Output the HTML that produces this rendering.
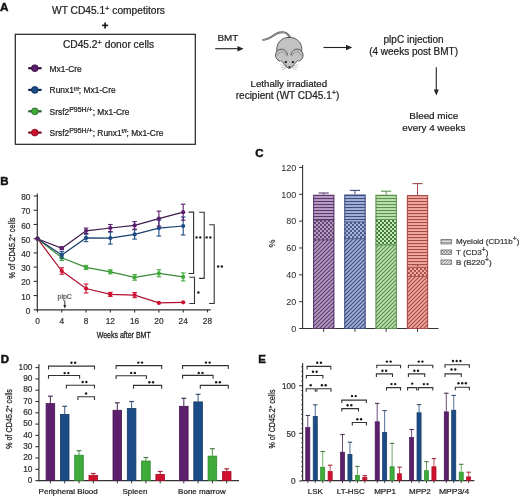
<!DOCTYPE html>
<html><head><meta charset="utf-8"><style>
html,body{margin:0;padding:0;background:#fff;}
body{width:520px;height:497px;overflow:hidden;}
svg{display:block;font-family:"Liberation Sans", sans-serif;will-change:transform;}
</style></head><body>
<svg width="520" height="497" viewBox="0 0 520 497">
<defs><pattern id="hp" patternUnits="userSpaceOnUse" width="4" height="3"><rect width="4" height="3" fill="#b99bc6"/><rect y="0" width="4" height="1.05" fill="#5a3a6c"/></pattern><pattern id="xp" patternUnits="userSpaceOnUse" width="4" height="4"><rect width="4" height="4" fill="#b49cc2"/><rect width="2" height="2" fill="#664674"/><rect x="2" y="2" width="2" height="2" fill="#664674"/></pattern><pattern id="dp" patternUnits="userSpaceOnUse" width="4" height="4"><rect width="4" height="4" fill="#b99bc6"/><path d="M-1,1 L1,-1 M0,4 L4,0 M3,5 L5,3" stroke="#5a3a6c" stroke-width="1.15"/></pattern><pattern id="hb" patternUnits="userSpaceOnUse" width="4" height="3"><rect width="4" height="3" fill="#a3b0d6"/><rect y="0" width="4" height="1.05" fill="#3f4e82"/></pattern><pattern id="xb" patternUnits="userSpaceOnUse" width="4" height="4"><rect width="4" height="4" fill="#a8b6dc"/><rect width="2" height="2" fill="#4a5a8e"/><rect x="2" y="2" width="2" height="2" fill="#4a5a8e"/></pattern><pattern id="db" patternUnits="userSpaceOnUse" width="4" height="4"><rect width="4" height="4" fill="#a3b0d6"/><path d="M-1,1 L1,-1 M0,4 L4,0 M3,5 L5,3" stroke="#3f4e82" stroke-width="1.15"/></pattern><pattern id="hg" patternUnits="userSpaceOnUse" width="4" height="3"><rect width="4" height="3" fill="#bde1ae"/><rect y="0" width="4" height="1.05" fill="#5a9050"/></pattern><pattern id="xg" patternUnits="userSpaceOnUse" width="4" height="4"><rect width="4" height="4" fill="#c6eab9"/><rect width="2" height="2" fill="#457a3b"/><rect x="2" y="2" width="2" height="2" fill="#457a3b"/></pattern><pattern id="dg" patternUnits="userSpaceOnUse" width="4" height="4"><rect width="4" height="4" fill="#bde1ae"/><path d="M-1,1 L1,-1 M0,4 L4,0 M3,5 L5,3" stroke="#5a9050" stroke-width="1.15"/></pattern><pattern id="hr" patternUnits="userSpaceOnUse" width="4" height="3"><rect width="4" height="3" fill="#f0a89d"/><rect y="0" width="4" height="1.05" fill="#a84a48"/></pattern><pattern id="xr" patternUnits="userSpaceOnUse" width="4" height="4"><rect width="4" height="4" fill="#eeaaa2"/><rect width="2" height="2" fill="#b05050"/><rect x="2" y="2" width="2" height="2" fill="#b05050"/></pattern><pattern id="dr" patternUnits="userSpaceOnUse" width="4" height="4"><rect width="4" height="4" fill="#f0a89d"/><path d="M-1,1 L1,-1 M0,4 L4,0 M3,5 L5,3" stroke="#a84a48" stroke-width="1.15"/></pattern><pattern id="hL" patternUnits="userSpaceOnUse" width="4" height="2.2"><rect width="4" height="2.2" fill="#e6e6e6"/><rect width="4" height="0.7" fill="#888"/></pattern><pattern id="xL" patternUnits="userSpaceOnUse" width="3" height="3"><rect width="3" height="3" fill="#e0e0e0"/><path d="M0,0 L3,3 M3,0 L0,3" stroke="#777" stroke-width="0.6"/></pattern><pattern id="dL" patternUnits="userSpaceOnUse" width="3" height="3"><rect width="3" height="3" fill="#e0e0e0"/><path d="M-1,1 L1,-1 M0,3 L3,0 M2,4 L4,2" stroke="#777" stroke-width="0.7"/></pattern></defs>
<rect width="520" height="497" fill="#fff"/>
<text x="0.10" y="10.60" font-size="11.7" text-anchor="start" fill="#111" font-weight="bold"  stroke="#111" stroke-width="0.45">A</text>
<text x="108.50" y="13.80" font-size="10.2" text-anchor="middle" fill="#222222" font-weight="normal" stroke="#222222" stroke-width="0.22" >WT CD45.1<tspan font-size="7.5" dy="-3.3">+</tspan><tspan dy="3.3"> competitors</tspan></text>
<line x1="102.10" y1="25.40" x2="108.10" y2="25.40" stroke="#111" stroke-width="1.6" />
<line x1="105.10" y1="22.40" x2="105.10" y2="28.40" stroke="#111" stroke-width="1.6" />
<rect x="15.3" y="34.3" width="180" height="110" fill="none" stroke="#222" stroke-width="1.2"/>
<text x="108.50" y="48.00" font-size="10.2" text-anchor="middle" fill="#222222" font-weight="normal" stroke="#222222" stroke-width="0.22" >CD45.2<tspan font-size="7.5" dy="-3.3">+</tspan><tspan dy="3.3"> donor cells</tspan></text>
<line x1="28.20" y1="68.20" x2="41.60" y2="68.20" stroke="#35103f" stroke-width="2.2" />
<circle cx="34.8" cy="68.2" r="3.4" fill="#5c1f6e" stroke="#35103f" stroke-width="0.8"/>
<text x="49.60" y="71.60" font-size="8.4" text-anchor="start" fill="#222222" font-weight="normal" stroke="#222222" stroke-width="0.22" >Mx1-Cre</text>
<line x1="28.20" y1="89.90" x2="41.60" y2="89.90" stroke="#0f2b52" stroke-width="2.2" />
<circle cx="34.8" cy="89.9" r="3.4" fill="#1c4c87" stroke="#0f2b52" stroke-width="0.8"/>
<text x="49.60" y="93.30" font-size="8.4" text-anchor="start" fill="#222222" font-weight="normal" stroke="#222222" stroke-width="0.22" >Runx1<tspan font-size="6" dy="-2.8">f/f</tspan><tspan dy="2.8">; Mx1-Cre</tspan></text>
<line x1="28.20" y1="111.30" x2="41.60" y2="111.30" stroke="#2a5e2a" stroke-width="2.2" />
<circle cx="34.8" cy="111.3" r="3.4" fill="#3fab3a" stroke="#2a5e2a" stroke-width="0.8"/>
<text x="49.60" y="114.70" font-size="8.4" text-anchor="start" fill="#222222" font-weight="normal" stroke="#222222" stroke-width="0.22" >Srsf2<tspan font-size="7" dy="-2.6">P95H/+</tspan><tspan dy="2.6">; Mx1-Cre</tspan></text>
<line x1="28.20" y1="132.60" x2="41.60" y2="132.60" stroke="#7a0a1c" stroke-width="2.2" />
<circle cx="34.8" cy="132.6" r="3.4" fill="#cf1130" stroke="#7a0a1c" stroke-width="0.8"/>
<text x="49.60" y="136.00" font-size="8.4" text-anchor="start" fill="#222222" font-weight="normal" stroke="#222222" stroke-width="0.22" >Srsf2<tspan font-size="7" dy="-2.6">P95H/+</tspan><tspan dy="2.6">; Runx1</tspan><tspan font-size="6" dy="-2.8">f/f</tspan><tspan dy="2.8">; Mx1-Cre</tspan></text>
<text x="217.50" y="40.60" font-size="9.9" text-anchor="start" fill="#222222" font-weight="normal" stroke="#222222" stroke-width="0.22" >BMT</text>
<line x1="215.20" y1="48.70" x2="240.00" y2="48.70" stroke="#222" stroke-width="1.1" />
<path d="M237.5,46 L243.6,48.7 L237.5,51.4 Z" fill="#222"/>
<g stroke-linejoin="round" stroke-linecap="round">
<path d="M263.3,39.9 C267.5,39.6 271.5,37 275,34.5 C278,32.5 281,32 284,32.4 C286.5,32.8 288.5,34.6 290.2,37.8" fill="none" stroke="#555" stroke-width="1.9"/>
<path d="M263.6,39.8 C267.5,39.6 271.5,37 275,34.5 C278,32.5 281,32 284,32.4 C286.5,32.8 288.5,34.6 290.2,37.8" fill="none" stroke="#bdbdbd" stroke-width="0.6"/>
<path d="M289.3,37.3 C296.5,37.3 301.8,42.5 301.8,49 C301.8,54 300,57.5 297.5,60.5 L291.3,67.4 C290.2,68.6 288.4,68.6 287.3,67.4 L281.1,60.5 C278.6,57.5 276.8,54 276.8,49 C276.8,42.5 282.1,37.3 289.3,37.3 Z" fill="#c2c2c2" stroke="#4a4a4a" stroke-width="0.9"/>
<path d="M280,61.2 C276.9,60.2 275.2,57.6 275.5,54.5 C275.9,51.2 278.5,49.2 281.5,49.2 C284.8,49.2 287.3,51.6 287.6,55" fill="#c2c2c2" stroke="#4a4a4a" stroke-width="0.9"/>
<path d="M298.6,61.2 C301.7,60.2 303.4,57.6 303.1,54.5 C302.7,51.2 300.1,49.2 297.1,49.2 C293.8,49.2 291.3,51.6 291,55" fill="#c2c2c2" stroke="#4a4a4a" stroke-width="0.9"/>
<path d="M277.4,55.5 C277.9,53 279.8,51.6 282,51.8 C284.2,52 285.8,53.5 286.2,55.5" fill="none" stroke="#7a7a7a" stroke-width="0.6"/>
<path d="M301.2,55.5 C300.7,53 298.8,51.6 296.6,51.8 C294.4,52 292.8,53.5 292.4,55.5" fill="none" stroke="#7a7a7a" stroke-width="0.6"/>
</g>
<circle cx="285.8" cy="62.1" r="1.15" fill="#111"/>
<circle cx="292.9" cy="62.1" r="1.15" fill="#111"/>
<circle cx="289.4" cy="66.9" r="0.95" fill="#111"/>
<g stroke="#777" stroke-width="0.4" fill="none">
<path d="M287,66 L280.5,64.8 M287,66.6 L280.8,67.6 M287.3,67.2 L282,70"/>
<path d="M291.7,66 L298.2,64.8 M291.7,66.6 L297.9,67.6 M291.4,67.2 L296.7,70"/>
</g>
<text x="288.80" y="86.90" font-size="9.7" text-anchor="middle" fill="#222222" font-weight="normal" stroke="#222222" stroke-width="0.22" >Lethally irradiated</text>
<text x="287.60" y="98.60" font-size="10" text-anchor="middle" fill="#222222" font-weight="normal" stroke="#222222" stroke-width="0.22" >recipient (WT CD45.1<tspan font-size="7.5" dy="-3.4">+</tspan><tspan dy="3.4">)</tspan></text>
<line x1="323.50" y1="47.50" x2="348.00" y2="47.50" stroke="#222" stroke-width="1.1" />
<path d="M346,44.8 L352.3,47.5 L346,50.2 Z" fill="#222"/>
<text x="413.60" y="43.10" font-size="10" text-anchor="middle" fill="#222222" font-weight="normal" stroke="#222222" stroke-width="0.22" >plpC injection</text>
<text x="413.60" y="55.00" font-size="10" text-anchor="middle" fill="#222222" font-weight="normal" stroke="#222222" stroke-width="0.22" >(4 weeks post BMT)</text>
<line x1="436.30" y1="67.30" x2="436.30" y2="91.00" stroke="#222" stroke-width="1.1" />
<path d="M433.8,89.6 L436.3,95.6 L438.8,89.6 Z" fill="#222"/>
<text x="433.80" y="119.20" font-size="9.9" text-anchor="middle" fill="#222222" font-weight="normal" stroke="#222222" stroke-width="0.22" >Bleed mice</text>
<text x="433.80" y="130.80" font-size="9.9" text-anchor="middle" fill="#222222" font-weight="normal" stroke="#222222" stroke-width="0.22" >every 4 weeks</text>
<text x="0.30" y="185.30" font-size="11.5" text-anchor="start" fill="#111" font-weight="bold"  stroke="#111" stroke-width="0.45">B</text>
<line x1="37.30" y1="193.40" x2="37.30" y2="310.40" stroke="#333333" stroke-width="1.2" />
<line x1="36.70" y1="309.80" x2="210.80" y2="309.80" stroke="#333333" stroke-width="1.2" />
<line x1="33.60" y1="309.80" x2="37.30" y2="309.80" stroke="#333333" stroke-width="1.1" />
<text x="30.40" y="313.85" font-size="8.3" text-anchor="end" fill="#333" font-weight="normal" stroke="#333" stroke-width="0.22" >0</text>
<line x1="33.60" y1="295.57" x2="37.30" y2="295.57" stroke="#333333" stroke-width="1.1" />
<text x="30.40" y="299.62" font-size="8.3" text-anchor="end" fill="#333" font-weight="normal" stroke="#333" stroke-width="0.22" >10</text>
<line x1="33.60" y1="281.35" x2="37.30" y2="281.35" stroke="#333333" stroke-width="1.1" />
<text x="30.40" y="285.40" font-size="8.3" text-anchor="end" fill="#333" font-weight="normal" stroke="#333" stroke-width="0.22" >20</text>
<line x1="33.60" y1="267.12" x2="37.30" y2="267.12" stroke="#333333" stroke-width="1.1" />
<text x="30.40" y="271.18" font-size="8.3" text-anchor="end" fill="#333" font-weight="normal" stroke="#333" stroke-width="0.22" >30</text>
<line x1="33.60" y1="252.90" x2="37.30" y2="252.90" stroke="#333333" stroke-width="1.1" />
<text x="30.40" y="256.95" font-size="8.3" text-anchor="end" fill="#333" font-weight="normal" stroke="#333" stroke-width="0.22" >40</text>
<line x1="33.60" y1="238.68" x2="37.30" y2="238.68" stroke="#333333" stroke-width="1.1" />
<text x="30.40" y="242.73" font-size="8.3" text-anchor="end" fill="#333" font-weight="normal" stroke="#333" stroke-width="0.22" >50</text>
<line x1="33.60" y1="224.45" x2="37.30" y2="224.45" stroke="#333333" stroke-width="1.1" />
<text x="30.40" y="228.50" font-size="8.3" text-anchor="end" fill="#333" font-weight="normal" stroke="#333" stroke-width="0.22" >60</text>
<line x1="33.60" y1="210.23" x2="37.30" y2="210.23" stroke="#333333" stroke-width="1.1" />
<text x="30.40" y="214.28" font-size="8.3" text-anchor="end" fill="#333" font-weight="normal" stroke="#333" stroke-width="0.22" >70</text>
<line x1="33.60" y1="196.00" x2="37.30" y2="196.00" stroke="#333333" stroke-width="1.1" />
<text x="30.40" y="200.05" font-size="8.3" text-anchor="end" fill="#333" font-weight="normal" stroke="#333" stroke-width="0.22" >80</text>
<line x1="37.50" y1="309.80" x2="37.50" y2="312.40" stroke="#333333" stroke-width="1.1" />
<text x="37.50" y="323.60" font-size="8.3" text-anchor="middle" fill="#333" font-weight="normal" stroke="#333" stroke-width="0.22" >0</text>
<line x1="61.78" y1="309.80" x2="61.78" y2="312.40" stroke="#333333" stroke-width="1.1" />
<text x="61.78" y="323.60" font-size="8.3" text-anchor="middle" fill="#333" font-weight="normal" stroke="#333" stroke-width="0.22" >4</text>
<line x1="86.06" y1="309.80" x2="86.06" y2="312.40" stroke="#333333" stroke-width="1.1" />
<text x="86.06" y="323.60" font-size="8.3" text-anchor="middle" fill="#333" font-weight="normal" stroke="#333" stroke-width="0.22" >8</text>
<line x1="110.34" y1="309.80" x2="110.34" y2="312.40" stroke="#333333" stroke-width="1.1" />
<text x="110.34" y="323.60" font-size="8.3" text-anchor="middle" fill="#333" font-weight="normal" stroke="#333" stroke-width="0.22" >12</text>
<line x1="134.62" y1="309.80" x2="134.62" y2="312.40" stroke="#333333" stroke-width="1.1" />
<text x="134.62" y="323.60" font-size="8.3" text-anchor="middle" fill="#333" font-weight="normal" stroke="#333" stroke-width="0.22" >16</text>
<line x1="158.90" y1="309.80" x2="158.90" y2="312.40" stroke="#333333" stroke-width="1.1" />
<text x="158.90" y="323.60" font-size="8.3" text-anchor="middle" fill="#333" font-weight="normal" stroke="#333" stroke-width="0.22" >20</text>
<line x1="183.18" y1="309.80" x2="183.18" y2="312.40" stroke="#333333" stroke-width="1.1" />
<text x="183.18" y="323.60" font-size="8.3" text-anchor="middle" fill="#333" font-weight="normal" stroke="#333" stroke-width="0.22" >24</text>
<line x1="207.46" y1="309.80" x2="207.46" y2="312.40" stroke="#333333" stroke-width="1.1" />
<text x="207.46" y="323.60" font-size="8.3" text-anchor="middle" fill="#333" font-weight="normal" stroke="#333" stroke-width="0.22" >28</text>
<text x="11.60" y="248.00" font-size="9" text-anchor="middle" fill="#222" font-weight="normal"  transform="rotate(-90 11.6 248)" textLength="61" lengthAdjust="spacingAndGlyphs" dy="3" stroke="#222" stroke-width="0.25">% of CD45.2<tspan font-size="5.5" dy="-2.8">+</tspan><tspan dy="2.8"> cells</tspan></text>
<text x="123.70" y="338.00" font-size="9.6" text-anchor="middle" fill="#222" font-weight="normal"  textLength="54" lengthAdjust="spacingAndGlyphs" stroke="#222" stroke-width="0.3">Weeks after BMT</text>
<text x="64.70" y="298.70" font-size="7" text-anchor="middle" fill="#555" font-weight="normal" stroke="#555" stroke-width="0.22" >plpC</text>
<line x1="64.80" y1="300.50" x2="64.80" y2="306.00" stroke="#222" stroke-width="0.9" />
<path d="M63.3,305 L64.8,308.5 L66.3,305 Z" fill="#222"/>
<polyline points="37.50,238.70 61.78,271.00 86.06,288.50 110.34,294.40 134.62,295.10 158.90,302.90 183.18,302.30" fill="none" stroke="#b01030" stroke-width="1.2"/>
<polyline points="37.50,238.70 61.78,257.70 86.06,267.40 110.34,271.80 134.62,277.40 158.90,273.30 183.18,276.90" fill="none" stroke="#3a8a3a" stroke-width="1.2"/>
<polyline points="37.50,238.70 61.78,254.90 86.06,237.90 110.34,238.10 134.62,234.40 158.90,228.10 183.18,226.00" fill="none" stroke="#1b3f6e" stroke-width="1.2"/>
<polyline points="37.50,238.70 61.78,248.20 86.06,230.80 110.34,228.00 134.62,225.40 158.90,218.60 183.18,212.20" fill="none" stroke="#3f1a4c" stroke-width="1.2"/>
<circle cx="37.50" cy="238.70" r="2.1" fill="#cf1130"/>
<line x1="61.78" y1="267.80" x2="61.78" y2="274.20" stroke="#cf1130" stroke-width="1.1" />
<line x1="59.48" y1="267.80" x2="64.08" y2="267.80" stroke="#cf1130" stroke-width="1.1" />
<line x1="59.48" y1="274.20" x2="64.08" y2="274.20" stroke="#cf1130" stroke-width="1.1" />
<circle cx="61.78" cy="271.00" r="2.1" fill="#cf1130"/>
<line x1="86.06" y1="284.00" x2="86.06" y2="293.00" stroke="#cf1130" stroke-width="1.1" />
<line x1="83.76" y1="284.00" x2="88.36" y2="284.00" stroke="#cf1130" stroke-width="1.1" />
<line x1="83.76" y1="293.00" x2="88.36" y2="293.00" stroke="#cf1130" stroke-width="1.1" />
<circle cx="86.06" cy="288.50" r="2.1" fill="#cf1130"/>
<line x1="110.34" y1="292.40" x2="110.34" y2="296.40" stroke="#cf1130" stroke-width="1.1" />
<line x1="108.04" y1="292.40" x2="112.64" y2="292.40" stroke="#cf1130" stroke-width="1.1" />
<line x1="108.04" y1="296.40" x2="112.64" y2="296.40" stroke="#cf1130" stroke-width="1.1" />
<circle cx="110.34" cy="294.40" r="2.1" fill="#cf1130"/>
<line x1="134.62" y1="292.50" x2="134.62" y2="297.70" stroke="#cf1130" stroke-width="1.1" />
<line x1="132.32" y1="292.50" x2="136.92" y2="292.50" stroke="#cf1130" stroke-width="1.1" />
<line x1="132.32" y1="297.70" x2="136.92" y2="297.70" stroke="#cf1130" stroke-width="1.1" />
<circle cx="134.62" cy="295.10" r="2.1" fill="#cf1130"/>
<circle cx="158.90" cy="302.90" r="2.1" fill="#cf1130"/>
<circle cx="183.18" cy="302.30" r="2.1" fill="#cf1130"/>
<circle cx="37.50" cy="238.70" r="2.1" fill="#3fab3a"/>
<line x1="61.78" y1="254.90" x2="61.78" y2="260.50" stroke="#3fab3a" stroke-width="1.1" />
<line x1="59.48" y1="254.90" x2="64.08" y2="254.90" stroke="#3fab3a" stroke-width="1.1" />
<line x1="59.48" y1="260.50" x2="64.08" y2="260.50" stroke="#3fab3a" stroke-width="1.1" />
<circle cx="61.78" cy="257.70" r="2.1" fill="#3fab3a"/>
<line x1="86.06" y1="265.40" x2="86.06" y2="269.40" stroke="#3fab3a" stroke-width="1.1" />
<line x1="83.76" y1="265.40" x2="88.36" y2="265.40" stroke="#3fab3a" stroke-width="1.1" />
<line x1="83.76" y1="269.40" x2="88.36" y2="269.40" stroke="#3fab3a" stroke-width="1.1" />
<circle cx="86.06" cy="267.40" r="2.1" fill="#3fab3a"/>
<line x1="110.34" y1="269.80" x2="110.34" y2="273.80" stroke="#3fab3a" stroke-width="1.1" />
<line x1="108.04" y1="269.80" x2="112.64" y2="269.80" stroke="#3fab3a" stroke-width="1.1" />
<line x1="108.04" y1="273.80" x2="112.64" y2="273.80" stroke="#3fab3a" stroke-width="1.1" />
<circle cx="110.34" cy="271.80" r="2.1" fill="#3fab3a"/>
<line x1="134.62" y1="274.60" x2="134.62" y2="280.20" stroke="#3fab3a" stroke-width="1.1" />
<line x1="132.32" y1="274.60" x2="136.92" y2="274.60" stroke="#3fab3a" stroke-width="1.1" />
<line x1="132.32" y1="280.20" x2="136.92" y2="280.20" stroke="#3fab3a" stroke-width="1.1" />
<circle cx="134.62" cy="277.40" r="2.1" fill="#3fab3a"/>
<line x1="158.90" y1="269.80" x2="158.90" y2="276.80" stroke="#3fab3a" stroke-width="1.1" />
<line x1="156.60" y1="269.80" x2="161.20" y2="269.80" stroke="#3fab3a" stroke-width="1.1" />
<line x1="156.60" y1="276.80" x2="161.20" y2="276.80" stroke="#3fab3a" stroke-width="1.1" />
<circle cx="158.90" cy="273.30" r="2.1" fill="#3fab3a"/>
<line x1="183.18" y1="272.90" x2="183.18" y2="280.90" stroke="#3fab3a" stroke-width="1.1" />
<line x1="180.88" y1="272.90" x2="185.48" y2="272.90" stroke="#3fab3a" stroke-width="1.1" />
<line x1="180.88" y1="280.90" x2="185.48" y2="280.90" stroke="#3fab3a" stroke-width="1.1" />
<circle cx="183.18" cy="276.90" r="2.1" fill="#3fab3a"/>
<circle cx="37.50" cy="238.70" r="2.1" fill="#1c4c87"/>
<line x1="61.78" y1="251.60" x2="61.78" y2="258.20" stroke="#1c4c87" stroke-width="1.1" />
<line x1="59.48" y1="251.60" x2="64.08" y2="251.60" stroke="#1c4c87" stroke-width="1.1" />
<line x1="59.48" y1="258.20" x2="64.08" y2="258.20" stroke="#1c4c87" stroke-width="1.1" />
<circle cx="61.78" cy="254.90" r="2.1" fill="#1c4c87"/>
<line x1="86.06" y1="234.20" x2="86.06" y2="241.60" stroke="#1c4c87" stroke-width="1.1" />
<line x1="83.76" y1="234.20" x2="88.36" y2="234.20" stroke="#1c4c87" stroke-width="1.1" />
<line x1="83.76" y1="241.60" x2="88.36" y2="241.60" stroke="#1c4c87" stroke-width="1.1" />
<circle cx="86.06" cy="237.90" r="2.1" fill="#1c4c87"/>
<line x1="110.34" y1="232.10" x2="110.34" y2="244.10" stroke="#1c4c87" stroke-width="1.1" />
<line x1="108.04" y1="232.10" x2="112.64" y2="232.10" stroke="#1c4c87" stroke-width="1.1" />
<line x1="108.04" y1="244.10" x2="112.64" y2="244.10" stroke="#1c4c87" stroke-width="1.1" />
<circle cx="110.34" cy="238.10" r="2.1" fill="#1c4c87"/>
<line x1="134.62" y1="229.70" x2="134.62" y2="239.10" stroke="#1c4c87" stroke-width="1.1" />
<line x1="132.32" y1="229.70" x2="136.92" y2="229.70" stroke="#1c4c87" stroke-width="1.1" />
<line x1="132.32" y1="239.10" x2="136.92" y2="239.10" stroke="#1c4c87" stroke-width="1.1" />
<circle cx="134.62" cy="234.40" r="2.1" fill="#1c4c87"/>
<line x1="158.90" y1="220.10" x2="158.90" y2="236.10" stroke="#1c4c87" stroke-width="1.1" />
<line x1="156.60" y1="220.10" x2="161.20" y2="220.10" stroke="#1c4c87" stroke-width="1.1" />
<line x1="156.60" y1="236.10" x2="161.20" y2="236.10" stroke="#1c4c87" stroke-width="1.1" />
<circle cx="158.90" cy="228.10" r="2.1" fill="#1c4c87"/>
<line x1="183.18" y1="217.00" x2="183.18" y2="235.00" stroke="#1c4c87" stroke-width="1.1" />
<line x1="180.88" y1="217.00" x2="185.48" y2="217.00" stroke="#1c4c87" stroke-width="1.1" />
<line x1="180.88" y1="235.00" x2="185.48" y2="235.00" stroke="#1c4c87" stroke-width="1.1" />
<circle cx="183.18" cy="226.00" r="2.1" fill="#1c4c87"/>
<circle cx="37.50" cy="238.70" r="2.1" fill="#5c1f6e"/>
<line x1="61.78" y1="246.80" x2="61.78" y2="249.60" stroke="#5c1f6e" stroke-width="1.1" />
<line x1="59.48" y1="246.80" x2="64.08" y2="246.80" stroke="#5c1f6e" stroke-width="1.1" />
<line x1="59.48" y1="249.60" x2="64.08" y2="249.60" stroke="#5c1f6e" stroke-width="1.1" />
<circle cx="61.78" cy="248.20" r="2.1" fill="#5c1f6e"/>
<line x1="86.06" y1="228.10" x2="86.06" y2="233.50" stroke="#5c1f6e" stroke-width="1.1" />
<line x1="83.76" y1="228.10" x2="88.36" y2="228.10" stroke="#5c1f6e" stroke-width="1.1" />
<line x1="83.76" y1="233.50" x2="88.36" y2="233.50" stroke="#5c1f6e" stroke-width="1.1" />
<circle cx="86.06" cy="230.80" r="2.1" fill="#5c1f6e"/>
<line x1="110.34" y1="224.50" x2="110.34" y2="231.50" stroke="#5c1f6e" stroke-width="1.1" />
<line x1="108.04" y1="224.50" x2="112.64" y2="224.50" stroke="#5c1f6e" stroke-width="1.1" />
<line x1="108.04" y1="231.50" x2="112.64" y2="231.50" stroke="#5c1f6e" stroke-width="1.1" />
<circle cx="110.34" cy="228.00" r="2.1" fill="#5c1f6e"/>
<line x1="134.62" y1="221.60" x2="134.62" y2="229.20" stroke="#5c1f6e" stroke-width="1.1" />
<line x1="132.32" y1="221.60" x2="136.92" y2="221.60" stroke="#5c1f6e" stroke-width="1.1" />
<line x1="132.32" y1="229.20" x2="136.92" y2="229.20" stroke="#5c1f6e" stroke-width="1.1" />
<circle cx="134.62" cy="225.40" r="2.1" fill="#5c1f6e"/>
<line x1="158.90" y1="211.10" x2="158.90" y2="226.10" stroke="#5c1f6e" stroke-width="1.1" />
<line x1="156.60" y1="211.10" x2="161.20" y2="211.10" stroke="#5c1f6e" stroke-width="1.1" />
<line x1="156.60" y1="226.10" x2="161.20" y2="226.10" stroke="#5c1f6e" stroke-width="1.1" />
<circle cx="158.90" cy="218.60" r="2.1" fill="#5c1f6e"/>
<line x1="183.18" y1="204.20" x2="183.18" y2="220.20" stroke="#5c1f6e" stroke-width="1.1" />
<line x1="180.88" y1="204.20" x2="185.48" y2="204.20" stroke="#5c1f6e" stroke-width="1.1" />
<line x1="180.88" y1="220.20" x2="185.48" y2="220.20" stroke="#5c1f6e" stroke-width="1.1" />
<circle cx="183.18" cy="212.20" r="2.1" fill="#5c1f6e"/>
<path d="M188.50,212.10 H193.60 V273.50 H188.50" fill="none" stroke="#333" stroke-width="1.1"/>
<path d="M199.10,212.30 H204.20 V278.40 H199.10" fill="none" stroke="#333" stroke-width="1.1"/>
<path d="M209.10,224.80 H214.20 V303.50 H209.10" fill="none" stroke="#333" stroke-width="1.1"/>
<path d="M189.40,277.20 H194.50 V303.50 H189.40" fill="none" stroke="#333" stroke-width="1.1"/>
<circle cx="196.55" cy="237.40" r="1.2" fill="#1a1a1a"/>
<circle cx="200.25" cy="237.40" r="1.2" fill="#1a1a1a"/>
<circle cx="206.65" cy="237.40" r="1.2" fill="#1a1a1a"/>
<circle cx="210.35" cy="237.40" r="1.2" fill="#1a1a1a"/>
<circle cx="218.15" cy="266.50" r="1.2" fill="#1a1a1a"/>
<circle cx="221.85" cy="266.50" r="1.2" fill="#1a1a1a"/>
<circle cx="198.40" cy="292.50" r="1.2" fill="#1a1a1a"/>
<text x="255.20" y="157.30" font-size="11.5" text-anchor="start" fill="#111" font-weight="bold"  stroke="#111" stroke-width="0.45">C</text>
<line x1="302.60" y1="165.00" x2="302.60" y2="329.00" stroke="#333333" stroke-width="1.1" />
<line x1="302.10" y1="328.50" x2="438.50" y2="328.50" stroke="#333333" stroke-width="1.2" />
<line x1="299.20" y1="328.50" x2="302.60" y2="328.50" stroke="#333333" stroke-width="1" />
<text x="296.20" y="331.80" font-size="9" text-anchor="end" fill="#2a2a2a" font-weight="normal"  stroke="none">0</text>
<line x1="299.20" y1="301.66" x2="302.60" y2="301.66" stroke="#333333" stroke-width="1" />
<text x="296.20" y="304.96" font-size="9" text-anchor="end" fill="#2a2a2a" font-weight="normal"  stroke="none">20</text>
<line x1="299.20" y1="274.82" x2="302.60" y2="274.82" stroke="#333333" stroke-width="1" />
<text x="296.20" y="278.12" font-size="9" text-anchor="end" fill="#2a2a2a" font-weight="normal"  stroke="none">40</text>
<line x1="299.20" y1="247.98" x2="302.60" y2="247.98" stroke="#333333" stroke-width="1" />
<text x="296.20" y="251.28" font-size="9" text-anchor="end" fill="#2a2a2a" font-weight="normal"  stroke="none">60</text>
<line x1="299.20" y1="221.14" x2="302.60" y2="221.14" stroke="#333333" stroke-width="1" />
<text x="296.20" y="224.44" font-size="9" text-anchor="end" fill="#2a2a2a" font-weight="normal"  stroke="none">80</text>
<line x1="299.20" y1="194.30" x2="302.60" y2="194.30" stroke="#333333" stroke-width="1" />
<text x="296.20" y="197.60" font-size="9" text-anchor="end" fill="#2a2a2a" font-weight="normal"  stroke="none">100</text>
<line x1="299.20" y1="167.46" x2="302.60" y2="167.46" stroke="#333333" stroke-width="1" />
<text x="296.20" y="170.76" font-size="9" text-anchor="end" fill="#2a2a2a" font-weight="normal"  stroke="none">120</text>
<text x="271.90" y="243.50" font-size="9" text-anchor="middle" fill="#3a3a3a" font-weight="normal" stroke="#3a3a3a" stroke-width="0.22" transform="rotate(-90 271.9 243.5)" dy="3.2">%</text>
<line x1="323.70" y1="193.00" x2="323.70" y2="194.80" stroke="#5a3a6c" stroke-width="1" />
<line x1="318.60" y1="193.00" x2="328.80" y2="193.00" stroke="#5a3a6c" stroke-width="1.1" />
<rect x="313.10" y="194.80" width="21.20" height="25.30" fill="url(#hp)"/>
<rect x="313.10" y="220.10" width="21.20" height="19.80" fill="url(#xp)"/>
<rect x="313.10" y="239.90" width="21.20" height="88.60" fill="url(#dp)"/>
<rect x="313.60" y="195.30" width="20.20" height="133.20" fill="none" stroke="#5a3a6c" stroke-width="1"/>
<line x1="313.10" y1="220.10" x2="334.30" y2="220.10" stroke="#5a3a6c" stroke-width="0.9" />
<line x1="313.10" y1="239.90" x2="334.30" y2="239.90" stroke="#5a3a6c" stroke-width="0.9" />
<line x1="323.70" y1="328.50" x2="323.70" y2="331.80" stroke="#333333" stroke-width="1" />
<line x1="354.95" y1="190.40" x2="354.95" y2="194.60" stroke="#3f4e82" stroke-width="1" />
<line x1="349.85" y1="190.40" x2="360.05" y2="190.40" stroke="#3f4e82" stroke-width="1.1" />
<rect x="344.30" y="194.60" width="21.30" height="27.40" fill="url(#hb)"/>
<rect x="344.30" y="222.00" width="21.30" height="16.70" fill="url(#xb)"/>
<rect x="344.30" y="238.70" width="21.30" height="89.80" fill="url(#db)"/>
<rect x="344.80" y="195.10" width="20.30" height="133.40" fill="none" stroke="#3f4e82" stroke-width="1"/>
<line x1="344.30" y1="222.00" x2="365.60" y2="222.00" stroke="#3f4e82" stroke-width="0.9" />
<line x1="344.30" y1="238.70" x2="365.60" y2="238.70" stroke="#3f4e82" stroke-width="0.9" />
<line x1="354.95" y1="328.50" x2="354.95" y2="331.80" stroke="#333333" stroke-width="1" />
<line x1="386.15" y1="191.20" x2="386.15" y2="194.80" stroke="#5a9050" stroke-width="1" />
<line x1="381.05" y1="191.20" x2="391.25" y2="191.20" stroke="#5a9050" stroke-width="1.1" />
<rect x="375.50" y="194.80" width="21.30" height="24.70" fill="url(#hg)"/>
<rect x="375.50" y="219.50" width="21.30" height="25.50" fill="url(#xg)"/>
<rect x="375.50" y="245.00" width="21.30" height="83.50" fill="url(#dg)"/>
<rect x="376.00" y="195.30" width="20.30" height="133.20" fill="none" stroke="#5a9050" stroke-width="1"/>
<line x1="375.50" y1="219.50" x2="396.80" y2="219.50" stroke="#5a9050" stroke-width="0.9" />
<line x1="375.50" y1="245.00" x2="396.80" y2="245.00" stroke="#5a9050" stroke-width="0.9" />
<line x1="386.15" y1="328.50" x2="386.15" y2="331.80" stroke="#333333" stroke-width="1" />
<line x1="417.50" y1="183.60" x2="417.50" y2="195.10" stroke="#a84a48" stroke-width="1" />
<line x1="412.40" y1="183.60" x2="422.60" y2="183.60" stroke="#a84a48" stroke-width="1.1" />
<rect x="406.90" y="195.10" width="21.20" height="72.20" fill="url(#hr)"/>
<rect x="406.90" y="267.30" width="21.20" height="9.10" fill="url(#xr)"/>
<rect x="406.90" y="276.40" width="21.20" height="52.10" fill="url(#dr)"/>
<rect x="407.40" y="195.60" width="20.20" height="132.90" fill="none" stroke="#a84a48" stroke-width="1"/>
<line x1="406.90" y1="267.30" x2="428.10" y2="267.30" stroke="#a84a48" stroke-width="0.9" />
<line x1="406.90" y1="276.40" x2="428.10" y2="276.40" stroke="#a84a48" stroke-width="0.9" />
<line x1="417.50" y1="264.60" x2="417.50" y2="267.30" stroke="#a84a48" stroke-width="1" />
<line x1="412.40" y1="264.60" x2="422.60" y2="264.60" stroke="#a84a48" stroke-width="1.1" />
<line x1="417.50" y1="328.50" x2="417.50" y2="331.80" stroke="#333333" stroke-width="1" />
<rect x="441" y="239.6" width="10.5" height="4.3" fill="url(#hL)" stroke="#666" stroke-width="0.8"/>
<text x="456.00" y="244.30" font-size="8" text-anchor="start" fill="#333" font-weight="normal" stroke="#333" stroke-width="0.22" >Myeloid (CD11b<tspan font-size="6.8" dy="-3.2">+</tspan><tspan dy="3.2">)</tspan></text>
<rect x="441" y="250" width="10.5" height="4.3" fill="url(#xL)" stroke="#666" stroke-width="0.8"/>
<text x="456.00" y="254.70" font-size="8" text-anchor="start" fill="#333" font-weight="normal" stroke="#333" stroke-width="0.22" >T (CD3<tspan font-size="6.8" dy="-3.2">+</tspan><tspan dy="3.2">)</tspan></text>
<rect x="441" y="260" width="10.5" height="4.3" fill="url(#dL)" stroke="#666" stroke-width="0.8"/>
<text x="456.00" y="264.70" font-size="8" text-anchor="start" fill="#333" font-weight="normal" stroke="#333" stroke-width="0.22" >B (B220<tspan font-size="6.8" dy="-3.2">+</tspan><tspan dy="3.2">)</tspan></text>
<text x="0.80" y="362.90" font-size="11.5" text-anchor="start" fill="#111" font-weight="bold"  stroke="#111" stroke-width="0.45">D</text>
<line x1="38.90" y1="364.30" x2="38.90" y2="481.20" stroke="#333333" stroke-width="1.2" />
<line x1="38.30" y1="480.60" x2="239.00" y2="480.60" stroke="#333333" stroke-width="1.2" />
<line x1="35.40" y1="480.60" x2="38.90" y2="480.60" stroke="#333333" stroke-width="1.1" />
<text x="32.40" y="482.80" font-size="8.3" text-anchor="end" fill="#333" font-weight="normal" stroke="#333" stroke-width="0.22" >0</text>
<line x1="35.40" y1="469.30" x2="38.90" y2="469.30" stroke="#333333" stroke-width="1.1" />
<text x="32.40" y="471.50" font-size="8.3" text-anchor="end" fill="#333" font-weight="normal" stroke="#333" stroke-width="0.22" >10</text>
<line x1="35.40" y1="458.00" x2="38.90" y2="458.00" stroke="#333333" stroke-width="1.1" />
<text x="32.40" y="460.20" font-size="8.3" text-anchor="end" fill="#333" font-weight="normal" stroke="#333" stroke-width="0.22" >20</text>
<line x1="35.40" y1="446.70" x2="38.90" y2="446.70" stroke="#333333" stroke-width="1.1" />
<text x="32.40" y="448.90" font-size="8.3" text-anchor="end" fill="#333" font-weight="normal" stroke="#333" stroke-width="0.22" >30</text>
<line x1="35.40" y1="435.40" x2="38.90" y2="435.40" stroke="#333333" stroke-width="1.1" />
<text x="32.40" y="437.60" font-size="8.3" text-anchor="end" fill="#333" font-weight="normal" stroke="#333" stroke-width="0.22" >40</text>
<line x1="35.40" y1="424.10" x2="38.90" y2="424.10" stroke="#333333" stroke-width="1.1" />
<text x="32.40" y="426.30" font-size="8.3" text-anchor="end" fill="#333" font-weight="normal" stroke="#333" stroke-width="0.22" >50</text>
<line x1="35.40" y1="412.80" x2="38.90" y2="412.80" stroke="#333333" stroke-width="1.1" />
<text x="32.40" y="415.00" font-size="8.3" text-anchor="end" fill="#333" font-weight="normal" stroke="#333" stroke-width="0.22" >60</text>
<line x1="35.40" y1="401.50" x2="38.90" y2="401.50" stroke="#333333" stroke-width="1.1" />
<text x="32.40" y="403.70" font-size="8.3" text-anchor="end" fill="#333" font-weight="normal" stroke="#333" stroke-width="0.22" >70</text>
<line x1="35.40" y1="390.20" x2="38.90" y2="390.20" stroke="#333333" stroke-width="1.1" />
<text x="32.40" y="392.40" font-size="8.3" text-anchor="end" fill="#333" font-weight="normal" stroke="#333" stroke-width="0.22" >80</text>
<line x1="35.40" y1="378.90" x2="38.90" y2="378.90" stroke="#333333" stroke-width="1.1" />
<text x="32.40" y="381.10" font-size="8.3" text-anchor="end" fill="#333" font-weight="normal" stroke="#333" stroke-width="0.22" >90</text>
<line x1="35.40" y1="367.60" x2="38.90" y2="367.60" stroke="#333333" stroke-width="1.1" />
<text x="32.40" y="369.80" font-size="8.3" text-anchor="end" fill="#333" font-weight="normal" stroke="#333" stroke-width="0.22" >100</text>
<text x="8.90" y="419.00" font-size="9" text-anchor="middle" fill="#222" font-weight="normal"  transform="rotate(-90 8.9 419)" textLength="60" lengthAdjust="spacingAndGlyphs" dy="3" stroke="#222" stroke-width="0.25">% of CD45.2<tspan font-size="5.5" dy="-2.8">+</tspan><tspan dy="2.8"> cells</tspan></text>
<line x1="50.40" y1="396.20" x2="50.40" y2="403.20" stroke="#573a60" stroke-width="1.1" />
<line x1="48.00" y1="396.20" x2="52.80" y2="396.20" stroke="#4a2f55" stroke-width="1.2" />
<rect x="46.10" y="403.60" width="8.6" height="77.00" fill="#5c1f6e" stroke="#45164f" stroke-width="0.8"/>
<line x1="50.40" y1="480.60" x2="50.40" y2="483.40" stroke="#333333" stroke-width="1" />
<line x1="64.70" y1="406.30" x2="64.70" y2="414.10" stroke="#4a6a90" stroke-width="1.1" />
<line x1="62.30" y1="406.30" x2="67.10" y2="406.30" stroke="#35506f" stroke-width="1.2" />
<rect x="60.40" y="414.50" width="8.6" height="66.10" fill="#1c4c87" stroke="#153a66" stroke-width="0.8"/>
<line x1="64.70" y1="480.60" x2="64.70" y2="483.40" stroke="#333333" stroke-width="1" />
<line x1="79.00" y1="450.70" x2="79.00" y2="454.80" stroke="#5f9a58" stroke-width="1.1" />
<line x1="76.60" y1="450.70" x2="81.40" y2="450.70" stroke="#4a7a45" stroke-width="1.2" />
<rect x="74.70" y="455.20" width="8.6" height="25.40" fill="#3fab3a" stroke="#2f8a2c" stroke-width="0.8"/>
<line x1="79.00" y1="480.60" x2="79.00" y2="483.40" stroke="#333333" stroke-width="1" />
<line x1="93.30" y1="473.50" x2="93.30" y2="475.10" stroke="#b03545" stroke-width="1.1" />
<line x1="90.90" y1="473.50" x2="95.70" y2="473.50" stroke="#a02838" stroke-width="1.2" />
<rect x="89.00" y="475.50" width="8.6" height="5.10" fill="#cf1130" stroke="#a80d26" stroke-width="0.8"/>
<line x1="93.30" y1="480.60" x2="93.30" y2="483.40" stroke="#333333" stroke-width="1" />
<line x1="117.30" y1="402.80" x2="117.30" y2="409.90" stroke="#573a60" stroke-width="1.1" />
<line x1="114.90" y1="402.80" x2="119.70" y2="402.80" stroke="#4a2f55" stroke-width="1.2" />
<rect x="113.00" y="410.30" width="8.6" height="70.30" fill="#5c1f6e" stroke="#45164f" stroke-width="0.8"/>
<line x1="117.30" y1="480.60" x2="117.30" y2="483.40" stroke="#333333" stroke-width="1" />
<line x1="131.60" y1="401.50" x2="131.60" y2="408.00" stroke="#4a6a90" stroke-width="1.1" />
<line x1="129.20" y1="401.50" x2="134.00" y2="401.50" stroke="#35506f" stroke-width="1.2" />
<rect x="127.30" y="408.40" width="8.6" height="72.20" fill="#1c4c87" stroke="#153a66" stroke-width="0.8"/>
<line x1="131.60" y1="480.60" x2="131.60" y2="483.40" stroke="#333333" stroke-width="1" />
<line x1="145.90" y1="457.50" x2="145.90" y2="460.60" stroke="#5f9a58" stroke-width="1.1" />
<line x1="143.50" y1="457.50" x2="148.30" y2="457.50" stroke="#4a7a45" stroke-width="1.2" />
<rect x="141.60" y="461.00" width="8.6" height="19.60" fill="#3fab3a" stroke="#2f8a2c" stroke-width="0.8"/>
<line x1="145.90" y1="480.60" x2="145.90" y2="483.40" stroke="#333333" stroke-width="1" />
<line x1="160.20" y1="471.50" x2="160.20" y2="474.00" stroke="#b03545" stroke-width="1.1" />
<line x1="157.80" y1="471.50" x2="162.60" y2="471.50" stroke="#a02838" stroke-width="1.2" />
<rect x="155.90" y="474.40" width="8.6" height="6.20" fill="#cf1130" stroke="#a80d26" stroke-width="0.8"/>
<line x1="160.20" y1="480.60" x2="160.20" y2="483.40" stroke="#333333" stroke-width="1" />
<line x1="183.80" y1="398.30" x2="183.80" y2="405.90" stroke="#573a60" stroke-width="1.1" />
<line x1="181.40" y1="398.30" x2="186.20" y2="398.30" stroke="#4a2f55" stroke-width="1.2" />
<rect x="179.50" y="406.30" width="8.6" height="74.30" fill="#5c1f6e" stroke="#45164f" stroke-width="0.8"/>
<line x1="183.80" y1="480.60" x2="183.80" y2="483.40" stroke="#333333" stroke-width="1" />
<line x1="198.10" y1="394.30" x2="198.10" y2="401.50" stroke="#4a6a90" stroke-width="1.1" />
<line x1="195.70" y1="394.30" x2="200.50" y2="394.30" stroke="#35506f" stroke-width="1.2" />
<rect x="193.80" y="401.90" width="8.6" height="78.70" fill="#1c4c87" stroke="#153a66" stroke-width="0.8"/>
<line x1="198.10" y1="480.60" x2="198.10" y2="483.40" stroke="#333333" stroke-width="1" />
<line x1="212.40" y1="448.70" x2="212.40" y2="455.70" stroke="#5f9a58" stroke-width="1.1" />
<line x1="210.00" y1="448.70" x2="214.80" y2="448.70" stroke="#4a7a45" stroke-width="1.2" />
<rect x="208.10" y="456.10" width="8.6" height="24.50" fill="#3fab3a" stroke="#2f8a2c" stroke-width="0.8"/>
<line x1="212.40" y1="480.60" x2="212.40" y2="483.40" stroke="#333333" stroke-width="1" />
<line x1="226.70" y1="468.80" x2="226.70" y2="471.20" stroke="#b03545" stroke-width="1.1" />
<line x1="224.30" y1="468.80" x2="229.10" y2="468.80" stroke="#a02838" stroke-width="1.2" />
<rect x="222.40" y="471.60" width="8.6" height="9.00" fill="#cf1130" stroke="#a80d26" stroke-width="0.8"/>
<line x1="226.70" y1="480.60" x2="226.70" y2="483.40" stroke="#333333" stroke-width="1" />
<path d="M48.50,369.40 V366.10 H94.50 V369.40" fill="none" stroke="#333" stroke-width="1.1"/>
<circle cx="71.45" cy="362.70" r="1.2" fill="#1a1a1a"/>
<circle cx="75.15" cy="362.70" r="1.2" fill="#1a1a1a"/>
<path d="M48.50,378.80 V375.50 H79.60 V378.80" fill="none" stroke="#333" stroke-width="1.1"/>
<circle cx="64.65" cy="373.10" r="1.2" fill="#1a1a1a"/>
<circle cx="68.35" cy="373.10" r="1.2" fill="#1a1a1a"/>
<path d="M66.40,388.60 V385.30 H94.50 V388.60" fill="none" stroke="#333" stroke-width="1.1"/>
<circle cx="82.65" cy="382.00" r="1.2" fill="#1a1a1a"/>
<circle cx="86.35" cy="382.00" r="1.2" fill="#1a1a1a"/>
<path d="M77.90,400.00 V396.70 H94.50 V400.00" fill="none" stroke="#333" stroke-width="1.1"/>
<circle cx="86.10" cy="393.50" r="1.2" fill="#1a1a1a"/>
<path d="M116.10,368.90 V365.60 H161.70 V368.90" fill="none" stroke="#333" stroke-width="1.1"/>
<circle cx="138.35" cy="362.60" r="1.2" fill="#1a1a1a"/>
<circle cx="142.05" cy="362.60" r="1.2" fill="#1a1a1a"/>
<path d="M116.10,379.10 V375.80 H146.40 V379.10" fill="none" stroke="#333" stroke-width="1.1"/>
<circle cx="131.15" cy="372.90" r="1.2" fill="#1a1a1a"/>
<circle cx="134.85" cy="372.90" r="1.2" fill="#1a1a1a"/>
<path d="M133.50,388.70 V385.40 H161.70 V388.70" fill="none" stroke="#333" stroke-width="1.1"/>
<circle cx="149.35" cy="382.20" r="1.2" fill="#1a1a1a"/>
<circle cx="153.05" cy="382.20" r="1.2" fill="#1a1a1a"/>
<path d="M182.60,368.90 V365.60 H228.30 V368.90" fill="none" stroke="#333" stroke-width="1.1"/>
<circle cx="205.95" cy="362.60" r="1.2" fill="#1a1a1a"/>
<circle cx="209.65" cy="362.60" r="1.2" fill="#1a1a1a"/>
<path d="M182.60,378.70 V375.40 H213.10 V378.70" fill="none" stroke="#333" stroke-width="1.1"/>
<circle cx="198.75" cy="372.90" r="1.2" fill="#1a1a1a"/>
<circle cx="202.45" cy="372.90" r="1.2" fill="#1a1a1a"/>
<path d="M200.30,388.70 V385.40 H228.30 V388.70" fill="none" stroke="#333" stroke-width="1.1"/>
<circle cx="216.15" cy="382.20" r="1.2" fill="#1a1a1a"/>
<circle cx="219.85" cy="382.20" r="1.2" fill="#1a1a1a"/>
<text x="68.20" y="494.20" font-size="8" text-anchor="middle" fill="#1e1e1e" font-weight="normal" stroke="#1e1e1e" stroke-width="0.22" >Peripheral Blood</text>
<text x="134.90" y="494.20" font-size="8" text-anchor="middle" fill="#1e1e1e" font-weight="normal" stroke="#1e1e1e" stroke-width="0.22" >Spleen</text>
<text x="201.90" y="494.20" font-size="8" text-anchor="middle" fill="#1e1e1e" font-weight="normal" stroke="#1e1e1e" stroke-width="0.22" >Bone marrow</text>
<text x="258.30" y="363.00" font-size="11.5" text-anchor="start" fill="#111" font-weight="bold"  stroke="#111" stroke-width="0.45">E</text>
<line x1="302.60" y1="363.20" x2="302.60" y2="481.00" stroke="#333333" stroke-width="1.2" />
<line x1="302.10" y1="480.60" x2="474.40" y2="480.60" stroke="#333333" stroke-width="1.2" />
<line x1="301.20" y1="476.14" x2="302.60" y2="476.14" stroke="#333333" stroke-width="0.9" />
<line x1="301.20" y1="471.38" x2="302.60" y2="471.38" stroke="#333333" stroke-width="0.9" />
<line x1="301.20" y1="466.62" x2="302.60" y2="466.62" stroke="#333333" stroke-width="0.9" />
<line x1="301.20" y1="461.86" x2="302.60" y2="461.86" stroke="#333333" stroke-width="0.9" />
<line x1="301.20" y1="457.10" x2="302.60" y2="457.10" stroke="#333333" stroke-width="0.9" />
<line x1="301.20" y1="452.34" x2="302.60" y2="452.34" stroke="#333333" stroke-width="0.9" />
<line x1="301.20" y1="447.58" x2="302.60" y2="447.58" stroke="#333333" stroke-width="0.9" />
<line x1="301.20" y1="442.82" x2="302.60" y2="442.82" stroke="#333333" stroke-width="0.9" />
<line x1="301.20" y1="438.06" x2="302.60" y2="438.06" stroke="#333333" stroke-width="0.9" />
<line x1="301.20" y1="428.54" x2="302.60" y2="428.54" stroke="#333333" stroke-width="0.9" />
<line x1="301.20" y1="423.78" x2="302.60" y2="423.78" stroke="#333333" stroke-width="0.9" />
<line x1="301.20" y1="419.02" x2="302.60" y2="419.02" stroke="#333333" stroke-width="0.9" />
<line x1="301.20" y1="414.26" x2="302.60" y2="414.26" stroke="#333333" stroke-width="0.9" />
<line x1="301.20" y1="409.50" x2="302.60" y2="409.50" stroke="#333333" stroke-width="0.9" />
<line x1="301.20" y1="404.74" x2="302.60" y2="404.74" stroke="#333333" stroke-width="0.9" />
<line x1="301.20" y1="399.98" x2="302.60" y2="399.98" stroke="#333333" stroke-width="0.9" />
<line x1="301.20" y1="395.22" x2="302.60" y2="395.22" stroke="#333333" stroke-width="0.9" />
<line x1="301.20" y1="390.46" x2="302.60" y2="390.46" stroke="#333333" stroke-width="0.9" />
<line x1="301.20" y1="380.94" x2="302.60" y2="380.94" stroke="#333333" stroke-width="0.9" />
<line x1="301.20" y1="376.18" x2="302.60" y2="376.18" stroke="#333333" stroke-width="0.9" />
<line x1="301.20" y1="371.42" x2="302.60" y2="371.42" stroke="#333333" stroke-width="0.9" />
<line x1="301.20" y1="366.66" x2="302.60" y2="366.66" stroke="#333333" stroke-width="0.9" />
<line x1="299.30" y1="480.90" x2="302.60" y2="480.90" stroke="#333333" stroke-width="1.1" />
<text x="295.60" y="484.20" font-size="8.2" text-anchor="end" fill="#333" font-weight="normal" stroke="#333" stroke-width="0.22" >0</text>
<line x1="299.30" y1="433.30" x2="302.60" y2="433.30" stroke="#333333" stroke-width="1.1" />
<text x="295.60" y="436.60" font-size="8.2" text-anchor="end" fill="#333" font-weight="normal" stroke="#333" stroke-width="0.22" >50</text>
<line x1="299.30" y1="385.70" x2="302.60" y2="385.70" stroke="#333333" stroke-width="1.1" />
<text x="295.60" y="389.00" font-size="8.2" text-anchor="end" fill="#333" font-weight="normal" stroke="#333" stroke-width="0.22" >100</text>
<text x="272.10" y="419.00" font-size="9" text-anchor="middle" fill="#222" font-weight="normal"  transform="rotate(-90 272.1 419)" textLength="59" lengthAdjust="spacingAndGlyphs" dy="3" stroke="#222" stroke-width="0.25">% of CD45.2<tspan font-size="5.5" dy="-2.8">+</tspan><tspan dy="2.8"> cells</tspan></text>
<line x1="307.80" y1="415.50" x2="307.80" y2="427.10" stroke="#6e4a7c" stroke-width="1" />
<line x1="305.60" y1="415.50" x2="310.00" y2="415.50" stroke="#4a2f55" stroke-width="1.1" />
<rect x="305.75" y="427.45" width="4.1" height="53.15" fill="#5c1f6e" stroke="#45164f" stroke-width="0.7"/>
<line x1="307.80" y1="480.60" x2="307.80" y2="483.00" stroke="#333333" stroke-width="0.9" />
<line x1="315.25" y1="404.80" x2="315.25" y2="416.00" stroke="#4f6f98" stroke-width="1" />
<line x1="313.05" y1="404.80" x2="317.45" y2="404.80" stroke="#35506f" stroke-width="1.1" />
<rect x="313.20" y="416.35" width="4.1" height="64.25" fill="#1c4c87" stroke="#153a66" stroke-width="0.7"/>
<line x1="315.25" y1="480.60" x2="315.25" y2="483.00" stroke="#333333" stroke-width="0.9" />
<line x1="322.70" y1="451.50" x2="322.70" y2="466.90" stroke="#6aa862" stroke-width="1" />
<line x1="320.50" y1="451.50" x2="324.90" y2="451.50" stroke="#4a7a45" stroke-width="1.1" />
<rect x="320.65" y="467.25" width="4.1" height="13.35" fill="#3fab3a" stroke="#2f8a2c" stroke-width="0.7"/>
<line x1="322.70" y1="480.60" x2="322.70" y2="483.00" stroke="#333333" stroke-width="0.9" />
<line x1="330.15" y1="465.20" x2="330.15" y2="471.00" stroke="#c84858" stroke-width="1" />
<line x1="327.95" y1="465.20" x2="332.35" y2="465.20" stroke="#a02838" stroke-width="1.1" />
<rect x="328.10" y="471.35" width="4.1" height="9.25" fill="#cf1130" stroke="#a80d26" stroke-width="0.7"/>
<line x1="330.15" y1="480.60" x2="330.15" y2="483.00" stroke="#333333" stroke-width="0.9" />
<line x1="342.50" y1="434.50" x2="342.50" y2="451.80" stroke="#6e4a7c" stroke-width="1" />
<line x1="340.30" y1="434.50" x2="344.70" y2="434.50" stroke="#4a2f55" stroke-width="1.1" />
<rect x="340.45" y="452.15" width="4.1" height="28.45" fill="#5c1f6e" stroke="#45164f" stroke-width="0.7"/>
<line x1="342.50" y1="480.60" x2="342.50" y2="483.00" stroke="#333333" stroke-width="0.9" />
<line x1="349.95" y1="442.20" x2="349.95" y2="454.00" stroke="#4f6f98" stroke-width="1" />
<line x1="347.75" y1="442.20" x2="352.15" y2="442.20" stroke="#35506f" stroke-width="1.1" />
<rect x="347.90" y="454.35" width="4.1" height="26.25" fill="#1c4c87" stroke="#153a66" stroke-width="0.7"/>
<line x1="349.95" y1="480.60" x2="349.95" y2="483.00" stroke="#333333" stroke-width="0.9" />
<line x1="357.40" y1="466.40" x2="357.40" y2="475.00" stroke="#6aa862" stroke-width="1" />
<line x1="355.20" y1="466.40" x2="359.60" y2="466.40" stroke="#4a7a45" stroke-width="1.1" />
<rect x="355.35" y="475.35" width="4.1" height="5.25" fill="#3fab3a" stroke="#2f8a2c" stroke-width="0.7"/>
<line x1="357.40" y1="480.60" x2="357.40" y2="483.00" stroke="#333333" stroke-width="0.9" />
<line x1="364.85" y1="475.60" x2="364.85" y2="476.90" stroke="#c84858" stroke-width="1" />
<line x1="362.65" y1="475.60" x2="367.05" y2="475.60" stroke="#a02838" stroke-width="1.1" />
<rect x="362.80" y="477.25" width="4.1" height="3.35" fill="#cf1130" stroke="#a80d26" stroke-width="0.7"/>
<line x1="364.85" y1="480.60" x2="364.85" y2="483.00" stroke="#333333" stroke-width="0.9" />
<line x1="377.20" y1="403.40" x2="377.20" y2="421.40" stroke="#6e4a7c" stroke-width="1" />
<line x1="375.00" y1="403.40" x2="379.40" y2="403.40" stroke="#4a2f55" stroke-width="1.1" />
<rect x="375.15" y="421.75" width="4.1" height="58.85" fill="#5c1f6e" stroke="#45164f" stroke-width="0.7"/>
<line x1="377.20" y1="480.60" x2="377.20" y2="483.00" stroke="#333333" stroke-width="0.9" />
<line x1="384.65" y1="410.60" x2="384.65" y2="432.00" stroke="#4f6f98" stroke-width="1" />
<line x1="382.45" y1="410.60" x2="386.85" y2="410.60" stroke="#35506f" stroke-width="1.1" />
<rect x="382.60" y="432.35" width="4.1" height="48.25" fill="#1c4c87" stroke="#153a66" stroke-width="0.7"/>
<line x1="384.65" y1="480.60" x2="384.65" y2="483.00" stroke="#333333" stroke-width="0.9" />
<line x1="392.10" y1="443.30" x2="392.10" y2="466.40" stroke="#6aa862" stroke-width="1" />
<line x1="389.90" y1="443.30" x2="394.30" y2="443.30" stroke="#4a7a45" stroke-width="1.1" />
<rect x="390.05" y="466.75" width="4.1" height="13.85" fill="#3fab3a" stroke="#2f8a2c" stroke-width="0.7"/>
<line x1="392.10" y1="480.60" x2="392.10" y2="483.00" stroke="#333333" stroke-width="0.9" />
<line x1="399.55" y1="467.20" x2="399.55" y2="473.40" stroke="#c84858" stroke-width="1" />
<line x1="397.35" y1="467.20" x2="401.75" y2="467.20" stroke="#a02838" stroke-width="1.1" />
<rect x="397.50" y="473.75" width="4.1" height="6.85" fill="#cf1130" stroke="#a80d26" stroke-width="0.7"/>
<line x1="399.55" y1="480.60" x2="399.55" y2="483.00" stroke="#333333" stroke-width="0.9" />
<line x1="411.60" y1="429.50" x2="411.60" y2="437.10" stroke="#6e4a7c" stroke-width="1" />
<line x1="409.40" y1="429.50" x2="413.80" y2="429.50" stroke="#4a2f55" stroke-width="1.1" />
<rect x="409.55" y="437.45" width="4.1" height="43.15" fill="#5c1f6e" stroke="#45164f" stroke-width="0.7"/>
<line x1="411.60" y1="480.60" x2="411.60" y2="483.00" stroke="#333333" stroke-width="0.9" />
<line x1="419.05" y1="404.60" x2="419.05" y2="412.40" stroke="#4f6f98" stroke-width="1" />
<line x1="416.85" y1="404.60" x2="421.25" y2="404.60" stroke="#35506f" stroke-width="1.1" />
<rect x="417.00" y="412.75" width="4.1" height="67.85" fill="#1c4c87" stroke="#153a66" stroke-width="0.7"/>
<line x1="419.05" y1="480.60" x2="419.05" y2="483.00" stroke="#333333" stroke-width="0.9" />
<line x1="426.50" y1="461.70" x2="426.50" y2="470.30" stroke="#6aa862" stroke-width="1" />
<line x1="424.30" y1="461.70" x2="428.70" y2="461.70" stroke="#4a7a45" stroke-width="1.1" />
<rect x="424.45" y="470.65" width="4.1" height="9.95" fill="#3fab3a" stroke="#2f8a2c" stroke-width="0.7"/>
<line x1="426.50" y1="480.60" x2="426.50" y2="483.00" stroke="#333333" stroke-width="0.9" />
<line x1="433.95" y1="458.60" x2="433.95" y2="466.40" stroke="#c84858" stroke-width="1" />
<line x1="431.75" y1="458.60" x2="436.15" y2="458.60" stroke="#a02838" stroke-width="1.1" />
<rect x="431.90" y="466.75" width="4.1" height="13.85" fill="#cf1130" stroke="#a80d26" stroke-width="0.7"/>
<line x1="433.95" y1="480.60" x2="433.95" y2="483.00" stroke="#333333" stroke-width="0.9" />
<line x1="446.30" y1="393.20" x2="446.30" y2="411.50" stroke="#6e4a7c" stroke-width="1" />
<line x1="444.10" y1="393.20" x2="448.50" y2="393.20" stroke="#4a2f55" stroke-width="1.1" />
<rect x="444.25" y="411.85" width="4.1" height="68.75" fill="#5c1f6e" stroke="#45164f" stroke-width="0.7"/>
<line x1="446.30" y1="480.60" x2="446.30" y2="483.00" stroke="#333333" stroke-width="0.9" />
<line x1="453.75" y1="395.40" x2="453.75" y2="409.80" stroke="#4f6f98" stroke-width="1" />
<line x1="451.55" y1="395.40" x2="455.95" y2="395.40" stroke="#35506f" stroke-width="1.1" />
<rect x="451.70" y="410.15" width="4.1" height="70.45" fill="#1c4c87" stroke="#153a66" stroke-width="0.7"/>
<line x1="453.75" y1="480.60" x2="453.75" y2="483.00" stroke="#333333" stroke-width="0.9" />
<line x1="461.20" y1="464.30" x2="461.20" y2="471.80" stroke="#6aa862" stroke-width="1" />
<line x1="459.00" y1="464.30" x2="463.40" y2="464.30" stroke="#4a7a45" stroke-width="1.1" />
<rect x="459.15" y="472.15" width="4.1" height="8.45" fill="#3fab3a" stroke="#2f8a2c" stroke-width="0.7"/>
<line x1="461.20" y1="480.60" x2="461.20" y2="483.00" stroke="#333333" stroke-width="0.9" />
<line x1="468.65" y1="472.20" x2="468.65" y2="476.50" stroke="#c84858" stroke-width="1" />
<line x1="466.45" y1="472.20" x2="470.85" y2="472.20" stroke="#a02838" stroke-width="1.1" />
<rect x="466.60" y="476.85" width="4.1" height="3.75" fill="#cf1130" stroke="#a80d26" stroke-width="0.7"/>
<line x1="468.65" y1="480.60" x2="468.65" y2="483.00" stroke="#333333" stroke-width="0.9" />
<path d="M307.10,369.40 V366.40 H330.80 V369.40" fill="none" stroke="#333" stroke-width="1.1"/>
<circle cx="317.25" cy="362.80" r="1.2" fill="#1a1a1a"/>
<circle cx="320.95" cy="362.80" r="1.2" fill="#1a1a1a"/>
<path d="M306.40,378.50 V375.50 H322.90 V378.50" fill="none" stroke="#333" stroke-width="1.1"/>
<circle cx="312.95" cy="371.70" r="1.2" fill="#1a1a1a"/>
<circle cx="316.65" cy="371.70" r="1.2" fill="#1a1a1a"/>
<path d="M306.20,391.80 V388.80 H315.30 V391.80" fill="none" stroke="#333" stroke-width="1.1"/>
<circle cx="310.70" cy="385.20" r="1.2" fill="#1a1a1a"/>
<path d="M316.90,391.80 V388.80 H331.00 V391.80" fill="none" stroke="#333" stroke-width="1.1"/>
<circle cx="321.95" cy="385.20" r="1.2" fill="#1a1a1a"/>
<circle cx="325.65" cy="385.20" r="1.2" fill="#1a1a1a"/>
<path d="M341.80,403.10 V400.10 H366.40 V403.10" fill="none" stroke="#333" stroke-width="1.1"/>
<circle cx="352.05" cy="396.10" r="1.2" fill="#1a1a1a"/>
<circle cx="355.75" cy="396.10" r="1.2" fill="#1a1a1a"/>
<path d="M341.80,411.60 V408.60 H358.50 V411.60" fill="none" stroke="#333" stroke-width="1.1"/>
<circle cx="347.65" cy="405.30" r="1.2" fill="#1a1a1a"/>
<circle cx="351.35" cy="405.30" r="1.2" fill="#1a1a1a"/>
<path d="M352.30,425.50 V422.50 H366.40 V425.50" fill="none" stroke="#333" stroke-width="1.1"/>
<circle cx="357.35" cy="419.30" r="1.2" fill="#1a1a1a"/>
<circle cx="361.05" cy="419.30" r="1.2" fill="#1a1a1a"/>
<path d="M376.80,368.30 V365.30 H400.60 V368.30" fill="none" stroke="#333" stroke-width="1.1"/>
<circle cx="386.95" cy="361.60" r="1.2" fill="#1a1a1a"/>
<circle cx="390.65" cy="361.60" r="1.2" fill="#1a1a1a"/>
<path d="M376.40,376.90 V373.90 H392.50 V376.90" fill="none" stroke="#333" stroke-width="1.1"/>
<circle cx="382.45" cy="370.70" r="1.2" fill="#1a1a1a"/>
<circle cx="386.15" cy="370.70" r="1.2" fill="#1a1a1a"/>
<path d="M386.50,390.60 V387.60 H400.60 V390.60" fill="none" stroke="#333" stroke-width="1.1"/>
<circle cx="391.45" cy="384.10" r="1.2" fill="#1a1a1a"/>
<circle cx="395.15" cy="384.10" r="1.2" fill="#1a1a1a"/>
<path d="M408.40,368.30 V365.30 H432.80 V368.30" fill="none" stroke="#333" stroke-width="1.1"/>
<circle cx="418.75" cy="361.60" r="1.2" fill="#1a1a1a"/>
<circle cx="422.45" cy="361.60" r="1.2" fill="#1a1a1a"/>
<path d="M408.40,376.90 V373.90 H424.70 V376.90" fill="none" stroke="#333" stroke-width="1.1"/>
<circle cx="414.35" cy="370.70" r="1.2" fill="#1a1a1a"/>
<circle cx="418.05" cy="370.70" r="1.2" fill="#1a1a1a"/>
<path d="M407.60,390.60 V387.60 H416.70 V390.60" fill="none" stroke="#333" stroke-width="1.1"/>
<circle cx="412.20" cy="383.60" r="1.2" fill="#1a1a1a"/>
<path d="M418.30,390.60 V387.60 H432.80 V390.60" fill="none" stroke="#333" stroke-width="1.1"/>
<circle cx="423.85" cy="384.10" r="1.2" fill="#1a1a1a"/>
<circle cx="427.55" cy="384.10" r="1.2" fill="#1a1a1a"/>
<path d="M445.00,367.70 V364.70 H469.40 V367.70" fill="none" stroke="#333" stroke-width="1.1"/>
<circle cx="453.00" cy="361.00" r="1.2" fill="#1a1a1a"/>
<circle cx="456.70" cy="361.00" r="1.2" fill="#1a1a1a"/>
<circle cx="460.40" cy="361.00" r="1.2" fill="#1a1a1a"/>
<path d="M445.00,376.90 V373.90 H461.30 V376.90" fill="none" stroke="#333" stroke-width="1.1"/>
<circle cx="451.55" cy="369.50" r="1.2" fill="#1a1a1a"/>
<circle cx="455.25" cy="369.50" r="1.2" fill="#1a1a1a"/>
<path d="M455.30,390.20 V387.20 H469.40 V390.20" fill="none" stroke="#333" stroke-width="1.1"/>
<circle cx="458.50" cy="383.30" r="1.2" fill="#1a1a1a"/>
<circle cx="462.20" cy="383.30" r="1.2" fill="#1a1a1a"/>
<circle cx="465.90" cy="383.30" r="1.2" fill="#1a1a1a"/>
<text x="315.30" y="494.20" font-size="8" text-anchor="middle" fill="#1e1e1e" font-weight="normal" stroke="#1e1e1e" stroke-width="0.22" >LSK</text>
<text x="350.80" y="494.20" font-size="8" text-anchor="middle" fill="#1e1e1e" font-weight="normal" stroke="#1e1e1e" stroke-width="0.22" >LT-HSC</text>
<text x="385.10" y="494.20" font-size="8" text-anchor="middle" fill="#1e1e1e" font-weight="normal" stroke="#1e1e1e" stroke-width="0.22" >MPP1</text>
<text x="419.90" y="494.20" font-size="8" text-anchor="middle" fill="#1e1e1e" font-weight="normal" stroke="#1e1e1e" stroke-width="0.22" >MPP2</text>
<text x="454.10" y="494.20" font-size="8" text-anchor="middle" fill="#1e1e1e" font-weight="normal" stroke="#1e1e1e" stroke-width="0.22" textLength="30.3" lengthAdjust="spacingAndGlyphs">MPP3/4</text>
</svg>
</body></html>
